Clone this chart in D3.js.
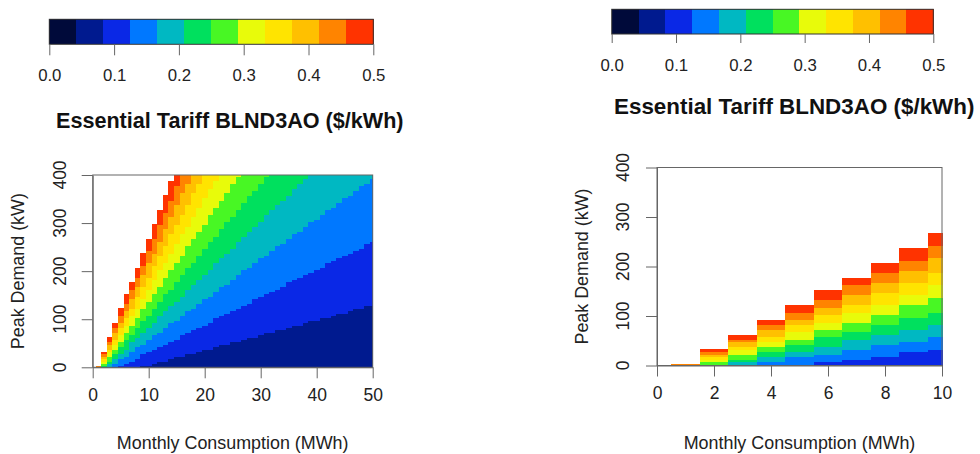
<!DOCTYPE html>
<html>
<head>
<meta charset="utf-8">
<script src="https://cdn.jsdelivr.net/npm/d3@7"></script>
<style>
  html, body { margin: 0; padding: 0; background: #fff; }
  svg { display: block; font-family: "Liberation Sans", Arial, Helvetica, sans-serif; }
</style>
</head>
<body>
<svg id="chart" width="980" height="454"></svg>
<script>
// ---------- data ----------
const rateTicks = [0.0, 0.1, 0.2, 0.3, 0.4, 0.5];                 // $/kWh colour-bar ticks
const rateBreaks = [0, 0.0417, 0.0833, 0.125, 0.1667, 0.2083, 0.25,
                    0.2917, 0.3333, 0.375, 0.4167, 0.4583, 0.5];   // band limits ($/kWh)
const bandColors = ["#000a3a", "#001a8f", "#0a28e6", "#0078ff", "#00b8c2", "#00e05e",
                    "#48f724", "#e8fb0a", "#ffe400", "#ffc000", "#ff8400", "#ff3300"];
// peak demand (kW) at which the rate crosses rateBreaks[1..12]: slope (kW per MWh) and common offset (kW)
const edgeSlope = [0.50, 3.13, 5.76, 8.39, 11.02, 13.65, 16.28, 18.91, 21.54, 24.17, 26.80, 29.43];
const edgeOffset = 26.5;
const demandStep = 5;          // kW grid step of the tariff image
const demandTicks = [0, 100, 200, 300, 400];
const leftConsTicks = [0, 10, 20, 30, 40, 50];
const rightConsTicks = [0, 2, 4, 6, 8, 10];
const titleText = "Essential Tariff BLND3AO ($/kWh)";
const xLabel = "Monthly Consumption (MWh)";
const yLabel = "Peak Demand (kW)";

// ---------- helpers ----------
const svg = d3.select("#chart");
const FONT = "Liberation Sans, Arial, Helvetica, sans-serif";
const AX = "#666";

function bandIndex(E, D) {
  if (E <= 0) return null;
  let k = 0;
  for (let j = 0; j < edgeSlope.length; j++) {
    if (edgeSlope[j] * E - edgeOffset <= D) k = j + 1;
  }
  return k >= bandColors.length ? null : k;
}

function colorBar(cfg) {
  const g = svg.append("g");
  const x = d3.scaleLinear().domain([0, 0.5]).range([cfg.x0, cfg.x1]);
  const bands = d3.range(bandColors.length).map(i => ({ lo: rateBreaks[i], hi: rateBreaks[i + 1], c: bandColors[i] }));
  g.selectAll("rect.band").data(bands).enter().append("rect")
    .attr("x", d => x(d.lo)).attr("width", d => x(d.hi) - x(d.lo) + 0.5)
    .attr("y", cfg.y0).attr("height", cfg.y1 - cfg.y0)
    .attr("shape-rendering", "crispEdges")
    .attr("fill", d => d.c);
  g.append("rect").attr("x", cfg.x0).attr("y", cfg.y0)
    .attr("width", cfg.x1 - cfg.x0).attr("height", cfg.y1 - cfg.y0)
    .attr("fill", "none").attr("stroke", "#333").attr("stroke-width", 1);
  const axis = d3.axisBottom(x).tickValues(rateTicks).tickFormat(d3.format(".1f"))
    .tickSize(cfg.tick).tickPadding(cfg.pad);
  const ag = g.append("g").attr("transform", `translate(0,${cfg.y1})`).call(axis);
  ag.select(".domain").remove();
  ag.selectAll("line").attr("stroke", AX);
  ag.selectAll("text").attr("font-size", "16.8px").attr("font-family", FONT).attr("fill", "#222");
  g.append("text").attr("x", cfg.tx).attr("y", cfg.ty)
    .attr("font-size", cfg.tfs).attr("font-weight", "bold").attr("font-family", FONT)
    .attr("fill", "#111").text(titleText);
}

function heatPanel(cfg) {
  const g = svg.append("g");
  const x = d3.scaleLinear().domain([0, cfg.xmax]).range([cfg.px0, cfg.px1]);
  const y = d3.scaleLinear().domain([0, 400]).range([cfg.py0, cfg.py1]);
  const cols = d3.range(0, cfg.xmax + 1);
  const rows = d3.range(0, 400 + demandStep, demandStep);
  const cells = [];
  cols.forEach(E => {
    let run = null;
    rows.forEach(D => {
      const k = bandIndex(E, D);
      if (run && run.k === k) { run.d1 = D; }
      else {
        if (run && run.k !== null) cells.push(run);
        run = { E, k, d0: D, d1: D };
      }
    });
    if (run && run.k !== null) cells.push(run);
  });
  g.selectAll("rect.cell").data(cells).enter().append("rect")
    .attr("x", d => x(Math.max(0, d.E - 0.5)))
    .attr("width", d => x(Math.min(cfg.xmax, d.E + 0.5)) - x(Math.max(0, d.E - 0.5)) + 0.6)
    .attr("y", d => y(Math.min(400, d.d1 + demandStep / 2)))
    .attr("height", d => y(Math.max(0, d.d0 - demandStep / 2)) - y(Math.min(400, d.d1 + demandStep / 2)) + 0.4)
    .attr("shape-rendering", "crispEdges")
    .attr("fill", d => bandColors[d.k]);

  // box
  g.append("rect").attr("x", cfg.px0).attr("y", cfg.py1)
    .attr("width", cfg.px1 - cfg.px0).attr("height", cfg.py0 - cfg.py1)
    .attr("fill", "none").attr("stroke", AX).attr("stroke-width", 1);

  // axes
  const xa = g.append("g").attr("transform", `translate(0,${cfg.py0})`)
    .call(d3.axisBottom(x).tickValues(cfg.xticks).tickFormat(d3.format("d")).tickSize(11).tickSizeOuter(0).tickPadding(10));
  xa.select(".domain").attr("stroke", AX);
  xa.selectAll("line").attr("stroke", AX);
  xa.selectAll("text").attr("font-size", "17.5px").attr("font-family", FONT).attr("fill", "#222");

  const ya = g.append("g").attr("transform", `translate(${cfg.px0},0)`)
    .call(d3.axisLeft(y).tickValues(demandTicks).tickFormat(d3.format("d")).tickSize(11).tickSizeOuter(0));
  ya.select(".domain").attr("stroke", AX);
  ya.selectAll("line").attr("stroke", AX);
  ya.selectAll("text").remove();
  g.selectAll("text.ytl").data(demandTicks).enter().append("text")
    .attr("class", "ytl")
    .attr("transform", d => `translate(${cfg.ytlx},${y(d)}) rotate(-90)`)
    .attr("text-anchor", "middle").attr("dy", "0.35em")
    .attr("font-size", "17.5px").attr("font-family", FONT).attr("fill", "#222")
    .text(d => d);

  g.append("text").attr("x", (cfg.px0 + cfg.px1) / 2).attr("y", cfg.xly)
    .attr("text-anchor", "middle").attr("dy", "0.35em")
    .attr("font-size", "17.9px").attr("font-family", FONT).attr("fill", "#222").text(xLabel);
  g.append("text")
    .attr("transform", `translate(${cfg.ylx},${(cfg.py0 + cfg.py1) / 2}) rotate(-90)`)
    .attr("text-anchor", "middle").attr("dy", "0.35em")
    .attr("font-size", "17.9px").attr("font-family", FONT).attr("fill", "#222").text(yLabel);
}

// ---------- left ----------
colorBar({ x0: 49.3, x1: 373.3, y0: 19.3, y1: 44.3, tick: 11, pad: 14, tx: 56, ty: 127.7, tfs: "21.6px" });
heatPanel({ xmax: 50, xticks: leftConsTicks, px0: 92.7, px1: 372.7, py0: 367.3, py1: 175,
            ytlx: 60, xly: 443, ylx: 18 });

// ---------- right ----------
colorBar({ x0: 611.7, x1: 933.3, y0: 9.3, y1: 34, tick: 9, pad: 16, tx: 614, ty: 114.3, tfs: "22.4px" });
heatPanel({ xmax: 10, xticks: rightConsTicks, px0: 657, px1: 942, py0: 365.5, py1: 167.5,
            ytlx: 623, xly: 443, ylx: 581.7 });
</script>
</body>
</html>
